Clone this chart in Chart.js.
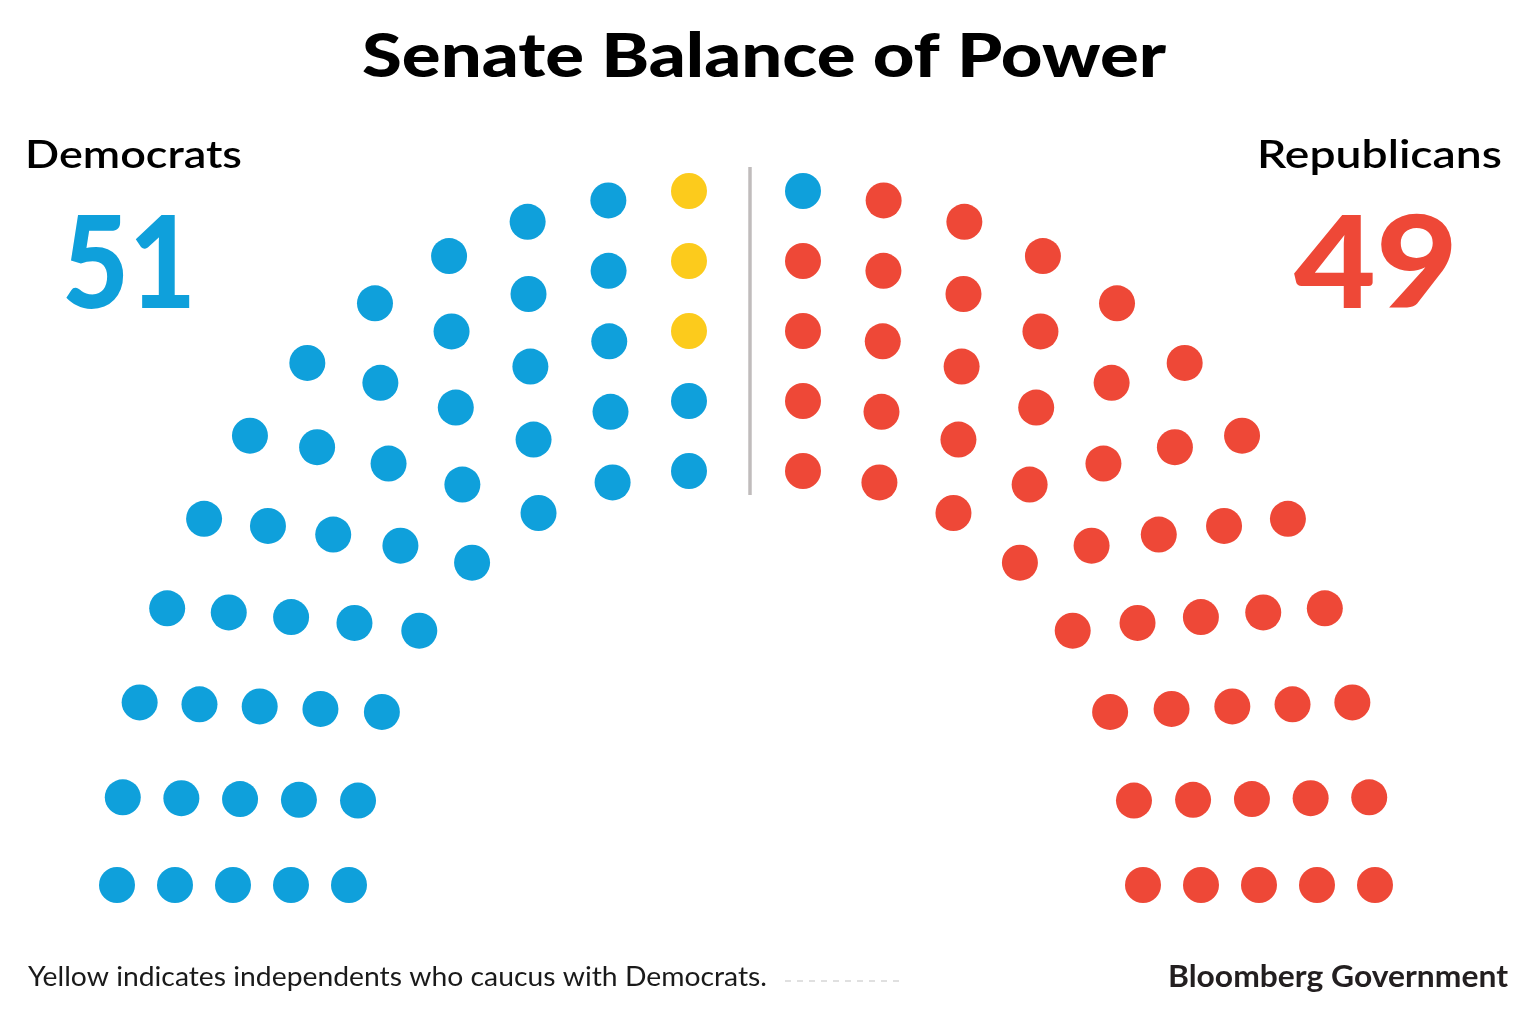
<!DOCTYPE html>
<html>
<head>
<meta charset="utf-8">
<title>Senate Balance of Power</title>
<script src="https://cdn.jsdelivr.net/npm/chart.js@4.4.1/dist/chart.umd.min.js"></script>
<style>
  html, body { margin: 0; padding: 0; background: #fff; }
  #wrap { width: 1536px; height: 1014px; position: relative; }
</style>
</head>
<body>
<div id="wrap"><canvas id="senate"></canvas></div>
<script>
// seat groups, in order from the far left round to the far right
const groupParty = ["Democrat", "Independent", "Democrat", "Republican"];
const groupSeats = [47, 3, 1, 49];
const partyNames = ["Democrat", "Independent", "Republican"];
const partyColors = ["#0fa0db", "#fccb1c", "#ee4837"];
const sideLabels = ["Democrats", "Republicans"];
const chartTitle = "Senate Balance of Power";
const footNote = "Yellow indicates independents who caucus with Democrats.";
const sourceText = "Bloomberg Government";

const FONT = "Lato, 'Open Sans', sans-serif";

// totals shown under the side labels
let demTotal = 0, repTotal = 0;
groupParty.forEach((p, i) => {
  if (p === "Republican") repTotal += groupSeats[i];
  else demTotal += groupSeats[i];
});

// hemicycle layout: 5 rings, each ring has (12 - ring) seats per side.
// every ring starts on the floor line and ends beside the aisle.
const RINGS = 5;
const cx = 746, cy = 820, floorY = 885, aisleGap = 57;
function ringSeats(k){ return 12 - k; }
function ringFloorGap(k){ return 629 - 58 * k; }   // distance from centre on the floor line
function ringTopGap(k){ return 629 - 70 * k; }     // height above centre beside the aisle
function ringSkew(k){ return 0.12 - 0.017 * k; }
function ringDip(k){ return 16 - 1.8 * k; }

let seats = [];
for (let side = 0; side < 2; side++) {
  for (let k = 0; k < RINGS; k++) {
    let n = ringSeats(k);
    let rS = Math.hypot(ringFloorGap(k), floorY - cy);
    let aS = -Math.asin((floorY - cy) / rS);
    let rE = Math.hypot(aisleGap, ringTopGap(k));
    let aE = Math.acos(aisleGap / rE);
    for (let i = 0; i < n; i++) {
      let t = i / (n - 1);
      let f = t + ringSkew(k) * t * (1 - t) - 0.25 * t * Math.pow(1 - t, 6);
      let phi = aS + (aE - aS) * f;
      let wave = Math.sin(2 * Math.PI * t) * (t < 0.5 ? 1 : 0.35);
      let r = rS + (rE - rS) * t - ringDip(k) * wave;
      let dx = r * Math.cos(phi), dy = r * Math.sin(phi);
      let deg = phi * 180 / Math.PI;
      seats.push({
        x: side === 0 ? cx - dx : cx + dx,
        y: cy - dy,
        order: side === 0 ? deg : 180 - deg
      });
    }
  }
}
seats.sort((a, b) => a.order - b.order);

// hand out the seats to the groups in order
let seatParty = [];
groupParty.forEach((p, i) => {
  for (let j = 0; j < groupSeats[i]; j++) seatParty.push(p);
});

const datasets = partyNames.map((name, pi) => ({
  label: name,
  data: seats.filter((s, i) => seatParty[i] === name).map(s => ({ x: s.x, y: s.y })),
  backgroundColor: partyColors[pi],
  borderWidth: 0,
  pointRadius: 18,
  pointHoverRadius: 18
}));

// draw text squeezed / stretched to a target width
function fitText(ctx, text, x, y, size, weight, width, align, color) {
  ctx.save();
  ctx.font = weight + " " + size + "px " + FONT;
  ctx.fillStyle = color;
  ctx.textBaseline = "alphabetic";
  let w = ctx.measureText(text).width;
  let sx = width / w;
  let left = align === "left" ? x : align === "right" ? x - width : x - width / 2;
  ctx.translate(left, y);
  ctx.scale(sx, 1);
  ctx.textAlign = "left";
  ctx.fillText(text, 0, 0);
  ctx.restore();
}

const decorations = {
  id: "decorations",
  beforeDatasetsDraw(chart) {
    const ctx = chart.ctx;
    // centre aisle
    ctx.save();
    ctx.strokeStyle = "#c0bcbc";
    ctx.lineWidth = 3.5;
    ctx.beginPath();
    ctx.moveTo(750, 167);
    ctx.lineTo(750, 495);
    ctx.stroke();
    ctx.restore();
  },
  afterDraw(chart) {
    const ctx = chart.ctx;
    fitText(ctx, chartTitle, 764, 77, 61, "900", 804, "center", "#000");
    fitText(ctx, sideLabels[0], 25, 168, 39, "600", 217, "left", "#000");
    fitText(ctx, sideLabels[1], 1502, 168, 39, "600", 245, "right", "#000");
    fitText(ctx, String(demTotal), 129, 308, 128, "900", 134, "center", partyColors[0]);
    fitText(ctx, String(repTotal), 1376, 308, 128, "900", 164, "center", partyColors[2]);
    fitText(ctx, footNote, 28, 986, 26, "400", 739, "left", "#1a1a1a");
    fitText(ctx, sourceText, 1508, 987, 30, "700", 340, "right", "#231f20");
    // faint leftover marks after the note
    ctx.save();
    ctx.strokeStyle = "#d6d6d6";
    ctx.lineWidth = 1.5;
    ctx.setLineDash([6, 6]);
    ctx.beginPath();
    ctx.moveTo(785, 981);
    ctx.lineTo(905, 981);
    ctx.stroke();
    ctx.restore();
  }
};

new Chart(document.getElementById("senate"), {
  type: "scatter",
  data: { datasets: datasets },
  options: {
    responsive: true,
    maintainAspectRatio: false,
    animation: false,
    layout: { padding: 0, autoPadding: false },
    scales: {
      x: { type: "linear", min: 0, max: 1536, display: false },
      y: { type: "linear", min: 0, max: 1014, reverse: true, display: false }
    },
    plugins: {
      legend: { display: false },
      tooltip: { enabled: false }
    }
  },
  plugins: [decorations]
});
</script>
</body>
</html>
